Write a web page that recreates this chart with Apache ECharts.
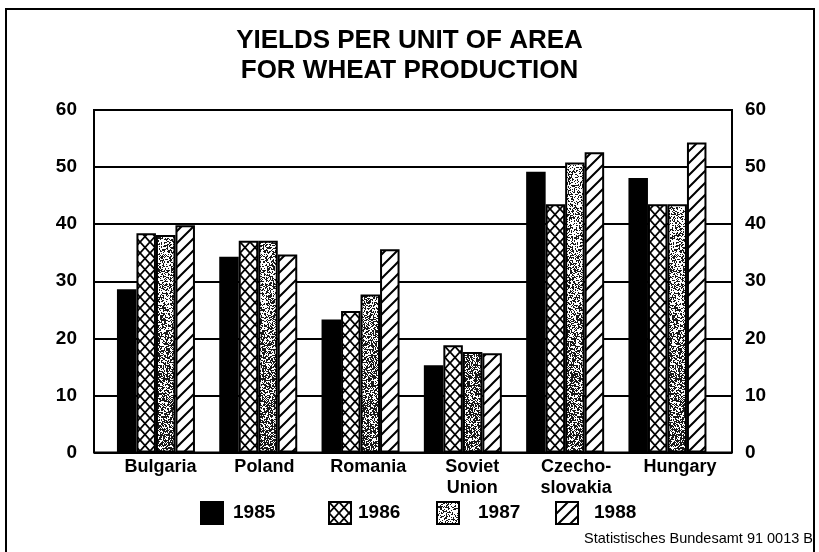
<!DOCTYPE html>
<html>
<head>
<meta charset="utf-8">
<script src="https://cdn.jsdelivr.net/npm/echarts@6/dist/echarts.min.js"></script>
<style>
html,body{margin:0;padding:0;background:#fff;}
#chart{width:819px;height:552px;}
</style>
</head>
<body>
<div id="chart"></div>
<script>
// ---- data ----
var categories = ['Bulgaria', 'Poland', 'Romania', 'Soviet\nUnion', 'Czecho-\nslovakia', 'Hungary'];
var years = ['1985', '1986', '1987', '1988'];
var v1985 = [28.6, 34.3, 23.3, 15.3, 49.2, 48.1];
var v1986 = [38.4, 37.1, 24.8, 18.8, 43.5, 43.5];
var v1987 = [38.1, 37.1, 27.7, 17.6, 50.8, 43.5];
var v1988 = [39.8, 34.7, 35.6, 17.4, 52.6, 54.3];
var yTicks = [0, 10, 20, 30, 40, 50, 60];
var titleLines = ['YIELDS PER UNIT OF AREA', 'FOR WHEAT PRODUCTION'];
var sourceText = 'Statistisches Bundesamt 91 0013 B';

var FONT = '"Liberation Sans", Arial, Helvetica, sans-serif';

// ---- patterns ----
function crossHatch() {
  var c = document.createElement('canvas'); c.width = 10; c.height = 11;
  var g = c.getContext('2d');
  g.fillStyle = '#fff'; g.fillRect(0, 0, 10, 11);
  g.strokeStyle = '#000'; g.lineWidth = 1.8;
  g.beginPath();
  g.moveTo(-1, -1.1); g.lineTo(11, 12.1);
  g.moveTo(11, -1.1); g.lineTo(-1, 12.1);
  g.stroke();
  return c;
}
function diagHatch() {
  var s = 12;
  var c = document.createElement('canvas'); c.width = s; c.height = s;
  var g = c.getContext('2d');
  g.fillStyle = '#fff'; g.fillRect(0, 0, s, s);
  g.strokeStyle = '#000'; g.lineWidth = 2;
  g.beginPath();
  [-s, 0, s].forEach(function (k) { g.moveTo(k - 1, s + 1); g.lineTo(k + s + 1, -1); });
  g.stroke();
  return c;
}
function hash(x, y) {
  var h = (x * 374761393 + y * 668265263) | 0;
  h = Math.imul(h ^ (h >>> 13), 1274126177);
  h = h ^ (h >>> 16);
  return (h >>> 0) / 4294967296;
}
function stipple() {
  // deterministic stipple texture, denser toward the bottom (aligned with page y)
  var w = 32, h = 552;
  var c = document.createElement('canvas'); c.width = w; c.height = h;
  var g = c.getContext('2d');
  g.fillStyle = '#fff'; g.fillRect(0, 0, w, h);
  var img = g.getImageData(0, 0, w, h);
  for (var y = 0; y < h; y++) {
    var t = Math.min(1, Math.max(0, (y - 160) / 290));
    var level = 0.32 + 0.3 * t;
    for (var x = 0; x < w; x++) {
      if (hash(x, y) < level) {
        var i = (y * w + x) * 4;
        img.data[i] = img.data[i + 1] = img.data[i + 2] = 25;
      }
    }
  }
  g.putImageData(img, 0, 0);
  return c;
}

var fills = [
  '#000',
  { image: crossHatch(), repeat: 'repeat' },
  { image: stipple(), repeat: 'repeat' },
  { image: diagHatch(), repeat: 'repeat' }
];
var values = [v1985, v1986, v1987, v1988];

var chart = echarts.init(document.getElementById('chart'), null, { renderer: 'canvas' });

var GT = 110, GB = 99.5;
var series = years.map(function (y, i) {
  return {
    name: y, type: 'bar', xAxisIndex: 1, yAxisIndex: 2,
    data: values[i], barWidth: 19.5, barGap: '0%',
    itemStyle: { color: fills[i], borderColor: '#000', borderWidth: 2 },
    emphasis: { disabled: true }
  };
});

var legendX = [200, 328, 436, 555];
var legendPad = [5, 2, 14, 11];
var legends = years.map(function (y, i) {
  return {
    data: [y], left: legendX[i], top: 501, padding: 0, itemWidth: 22, itemHeight: 22,
    selectedMode: false, icon: 'rect',
    textStyle: { fontFamily: FONT, fontWeight: 'bold', fontSize: 19, color: '#000', padding: [0, 0, 0, legendPad[i]] }
  };
});

chart.setOption({
  animation: false,
  backgroundColor: '#fff',
  title: {
    text: titleLines.join('\n'), left: 'center', top: 21,
    textStyle: { fontFamily: FONT, fontWeight: 'bold', fontSize: 26, color: '#000', lineHeight: 30 }
  },
  legend: legends,
  grid: [
    { left: 94, right: 87, top: GT, bottom: GB, show: true, borderColor: '#000', borderWidth: 2, backgroundColor: 'transparent' },
    { left: 104.8, right: 100.4, top: GT, bottom: GB },
    { left: 108.5, right: 87, top: GT, bottom: GB }
  ],
  xAxis: [
    { gridIndex: 0, type: 'value', show: false, min: 0, max: 1 },
    { gridIndex: 1, type: 'category', data: categories, axisLine: { show: false }, axisTick: { show: false }, axisLabel: { show: false } },
    { gridIndex: 2, type: 'category', data: categories, axisLine: { show: false }, axisTick: { show: false },
      axisLabel: { fontFamily: FONT, fontWeight: 'bold', fontSize: 18, color: '#000', margin: 4, lineHeight: 21, interval: 0 } }
  ],
  yAxis: [
    { gridIndex: 0, type: 'value', min: yTicks[0], max: yTicks[yTicks.length - 1], interval: 10, position: 'left',
      axisLine: { show: false }, axisTick: { show: false },
      axisLabel: { fontFamily: FONT, fontWeight: 'bold', fontSize: 19, color: '#000', margin: 17 },
      splitLine: { show: true, lineStyle: { color: '#000', width: 2 } } },
    { gridIndex: 0, type: 'value', min: yTicks[0], max: yTicks[yTicks.length - 1], interval: 10, position: 'right',
      axisLine: { show: false }, axisTick: { show: false },
      axisLabel: { fontFamily: FONT, fontWeight: 'bold', fontSize: 19, color: '#000', margin: 13 },
      splitLine: { show: false } },
    { gridIndex: 1, type: 'value', min: yTicks[0], max: yTicks[yTicks.length - 1], interval: 10, show: false },
    { gridIndex: 2, type: 'value', min: yTicks[0], max: yTicks[yTicks.length - 1], interval: 10, show: false }
  ],
  series: series,
  graphic: [
    { type: 'rect', shape: { x: 6, y: 9, width: 808, height: 560 }, style: { fill: null, stroke: '#000', lineWidth: 2 }, silent: true },
    { type: 'text', right: 6, top: 531, style: { text: sourceText, fontFamily: FONT, fontSize: 14.5, fill: '#000' }, silent: true }
  ]
});
</script>
</body>
</html>
